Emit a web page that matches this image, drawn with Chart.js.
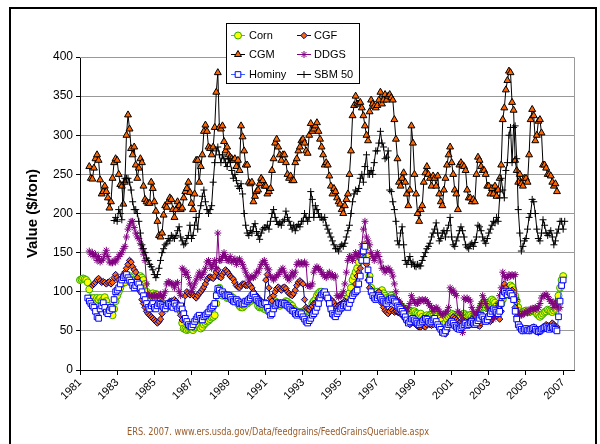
<!DOCTYPE html>
<html>
<head>
<meta charset="utf-8">
<script src="https://cdn.jsdelivr.net/npm/chart.js@4.4.1/dist/chart.umd.min.js"></script>
<style>
  html, body { margin: 0; padding: 0; background: #fff; }
  #wrap { position: relative; width: 600px; height: 444px; }
</style>
</head>
<body>
<div id="wrap"><canvas id="feedChart" width="600" height="444"></canvas></div>
<script>
// Monthly categories, Jan 1981 .. Aug 2007
const firstYear = 1981;
const monthCount = 320;
const tickYears = [1981, 1983, 1985, 1987, 1989, 1991, 1993, 1995, 1997, 1999, 2001, 2003, 2005, 2007];

// Series values ($/ton), one row per year, each series begins at its start month index
const cornStart = 0;
const corn = [
  115,116,117,116,115,112,103,92,90,92,88,92,
  90,92,88,90,93,88,82,75,72,70,78,88,
  95,100,105,110,112,112,115,120,120,118,115,112,
  112,115,118,120,118,115,110,100,95,92,95,98,
  95,97,96,93,90,85,82,80,80,82,85,85,
  85,84,82,80,78,75,60,53,52,51,52,53,
  52,51,54,55,57,55,53,55,58,60,62,63,
  65,67,68,70,85,100,105,98,95,97,95,92,
  92,95,93,92,90,88,85,82,80,80,82,85,
  85,87,88,90,92,90,88,82,80,80,80,78,
  77,78,80,82,85,85,88,86,85,82,84,85,
  86,88,87,85,84,82,78,76,75,74,72,73,
  75,74,75,76,77,78,85,88,90,95,98,100,
  100,98,97,95,92,88,80,75,72,73,75,78,
  78,80,82,85,88,92,98,105,115,120,125,130,
  138,145,150,155,160,158,145,120,105,100,98,100,
  100,98,100,102,98,95,92,90,93,95,92,90,
  88,87,85,82,80,78,75,72,68,70,72,75,
  75,73,72,70,72,68,65,68,70,68,70,72,
  73,75,73,70,67,63,58,55,60,65,68,70,
  72,70,68,67,65,67,68,70,72,70,68,70,
  70,68,67,68,70,72,75,80,85,83,80,82,
  85,88,90,88,86,82,80,82,85,90,95,98,
  100,104,108,106,102,95,88,80,75,72,73,75,
  76,75,74,75,76,78,75,72,70,68,70,72,
  74,75,77,76,75,74,76,78,85,95,105,115,
  120
];

const cgfStart = 8;
const cgf = [
  108,110,112,115,
  117,114,112,113,112,110,112,113,110,112,118,122,
  118,115,112,118,122,125,130,135,140,138,132,128,
  125,118,112,100,90,85,80,75,72,70,68,66,
  64,62,60,62,65,72,78,80,82,85,88,88,
  88,90,88,85,80,70,64,75,95,100,98,96,
  98,96,94,92,95,98,100,103,106,110,115,118,
  119,118,117,120,125,128,119,118,122,125,128,126,
  123,120,118,116,112,108,106,105,108,110,110,108,
  108,110,108,105,100,97,95,92,90,88,85,86,
  115,122,105,92,88,95,100,104,106,104,102,105,
  106,104,100,98,96,95,98,102,108,112,114,112,
  110,90,80,78,77,80,82,85,85,88,92,95,
  96,95,94,92,93,90,90,88,86,82,80,82,
  84,85,86,88,87,85,88,90,95,100,110,120,
  125,130,140,150,157,135,115,105,100,98,96,95,
  98,100,95,85,80,76,74,72,75,78,76,74,
  75,74,73,72,70,68,65,62,60,58,60,62,
  60,58,56,55,55,57,56,55,58,60,58,57,
  58,62,60,58,55,52,50,48,46,50,58,62,
  65,68,66,64,62,60,62,64,63,62,60,62,
  63,65,62,60,58,57,56,60,64,66,65,64,
  63,62,65,68,70,72,68,65,75,100,110,105,
  100,95,98,102,95,80,68,60,55,52,50,52,
  53,52,50,52,54,55,53,50,48,50,52,55,
  56,58,57,55,57,60,58,56,55
];

const cgmStart = 6;
const cgm = [
  260,245,244,258,270,275,
  268,243,225,228,235,228,220,207,215,245,265,270,
  268,250,237,235,212,240,300,326,308,283,275,285,
  262,245,258,270,265,235,218,215,213,213,240,232,
  215,203,190,172,170,175,198,210,208,215,220,218,
  205,195,205,215,210,205,207,220,228,232,240,227,
  213,205,225,268,268,240,260,275,305,313,305,285,
  283,275,285,310,355,380,310,308,312,292,280,285,
  275,272,270,268,270,260,268,255,312,298,280,262,
  262,240,238,240,215,222,228,230,238,245,242,235,
  235,225,228,232,255,270,290,295,285,275,268,275,
  275,265,250,245,248,242,242,265,270,280,285,293,
  295,290,280,277,300,315,305,308,312,316,305,295,
  285,275,262,265,262,248,235,225,232,228,220,215,
  212,205,200,210,218,225,250,280,325,338,350,340,
  340,342,335,325,312,300,293,330,345,340,337,335,
  338,345,355,340,345,352,345,350,352,348,345,320,
  295,270,240,235,245,252,240,225,210,230,312,290,
  250,225,200,190,205,210,240,252,260,250,245,235,
  248,245,235,248,225,215,210,230,245,262,275,285,
  265,250,230,225,205,262,265,262,260,255,230,220,
  220,215,218,215,250,272,268,260,255,255,250,235,
  235,225,232,225,235,222,230,245,262,320,335,358,
  370,382,380,342,332,268,255,240,250,238,235,245,
  245,240,275,320,333,325,293,300,318,320,303,262,
  262,258,250,250,248,240,235,238,228
];

const ddgsStart = 6;
const ddgs = [
  152,148,150,145,148,140,
  145,138,140,142,148,153,145,138,137,137,140,138,
  142,145,148,150,155,158,170,180,185,190,190,182,
  175,170,168,162,155,148,140,110,97,95,95,93,
  95,96,93,95,97,92,95,100,110,113,112,110,
  110,105,110,112,100,95,130,128,122,125,118,110,
  100,105,110,115,120,125,118,122,125,130,138,140,
  135,130,135,140,130,175,140,140,145,150,145,140,
  140,145,138,140,142,135,140,142,138,135,130,125,
  120,115,118,120,118,120,125,125,130,135,138,140,
  135,130,128,120,118,115,118,120,122,125,128,130,
  125,120,118,115,120,125,120,125,135,138,135,137,
  135,138,135,108,107,107,110,125,130,132,130,128,
  125,122,120,118,122,125,120,122,118,120,95,93,
  95,95,100,110,125,140,145,145,140,145,150,145,
  148,150,160,180,190,170,165,160,150,145,140,145,
  150,145,138,130,130,125,128,130,128,125,120,110,
  100,90,88,85,82,80,78,75,80,85,95,90,
  87,85,85,90,88,90,88,90,88,85,82,80,
  75,78,80,78,75,72,70,72,73,75,80,105,
  100,102,98,95,75,73,70,48,92,90,92,90,
  88,80,75,70,72,75,80,85,95,90,85,80,
  75,70,68,65,70,78,85,95,105,125,120,118,
  118,122,120,122,120,122,90,75,70,70,72,72,
  75,73,75,78,78,77,80,78,80,85,92,95,
  95,97,94,90,88,85,80,88,82,78,80
];

const hominyStart = 5;
const hominy = [
  92,88,85,82,80,75,68,
  66,78,82,86,80,74,72,76,80,78,90,100,
  102,105,110,115,118,120,122,118,115,112,108,105,
  108,112,110,105,100,95,90,85,80,78,82,85,
  80,78,82,85,84,82,80,78,82,85,84,82,
  80,85,82,78,80,82,78,72,66,62,58,56,
  55,58,62,65,68,70,66,64,68,70,72,74,
  78,80,82,85,95,104,102,98,100,97,95,96,
  95,93,90,88,87,90,88,85,86,84,85,88,
  88,90,92,95,97,93,90,88,86,85,84,86,
  85,80,75,70,72,78,82,84,86,85,84,86,
  85,83,82,80,78,76,75,72,70,72,74,72,
  68,65,62,60,63,66,70,72,75,80,85,92,
  96,98,100,96,92,85,78,72,70,68,72,75,
  78,80,82,84,82,80,85,90,95,98,100,102,
  110,120,140,152,158,140,128,115,100,95,92,90,
  92,95,93,90,88,86,85,88,90,92,90,88,
  86,82,80,78,75,72,68,64,60,62,65,66,
  64,62,60,58,60,62,64,66,65,62,60,62,
  64,66,62,58,55,52,48,47,50,55,58,60,
  62,60,57,55,53,52,54,56,58,60,57,58,
  60,62,60,58,60,63,66,70,68,65,62,64,
  68,72,75,78,76,74,72,75,85,95,100,98,
  96,100,98,95,90,75,65,58,55,52,50,52,
  53,51,50,52,53,54,52,50,49,50,52,53,
  54,55,53,52,54,55,53,52,50,68,88,108,
  115
];

const sbmStart = 22;
const sbm = [
  191,195,
  190,205,200,192,240,245,245,245,240,230,215,205,
  205,200,190,175,160,155,150,143,140,135,132,128,
  122,118,122,130,140,150,155,160,162,168,165,172,
  170,168,172,178,183,170,165,160,162,168,172,185,
  168,172,185,195,180,200,210,222,230,215,205,200,
  205,210,240,265,280,285,275,265,275,270,265,260,
  270,265,255,245,250,242,235,232,238,225,200,185,
  175,172,178,175,183,187,177,172,167,175,180,182,
  182,185,180,190,200,205,195,190,186,188,185,190,
  192,203,195,190,185,180,185,178,183,186,183,190,
  190,200,195,190,195,228,218,195,210,205,200,195,
  195,192,195,185,180,175,170,165,160,155,155,152,
  158,160,158,162,170,178,185,200,215,225,230,228,
  232,245,250,240,260,275,250,250,255,250,265,280,
  280,290,305,290,285,270,272,280,230,228,215,205,
  190,165,160,175,183,160,140,135,140,145,135,138,
  133,132,135,133,133,140,145,150,155,158,162,170,
  175,180,188,175,165,168,175,178,170,178,185,195,
  170,160,158,165,170,178,183,178,170,160,157,155,
  160,162,158,163,170,185,183,178,170,165,162,168,
  175,180,185,190,188,195,190,220,245,230,220,255,
  265,300,310,265,310,312,270,205,175,152,158,165,
  168,180,195,200,218,215,200,180,168,165,175,192,
  185,175,172,175,178,170,160,165,175,180,190,190,
  180,190
];

const labels = Array.from({ length: monthCount }, (_, i) => {
  const y = firstYear + Math.floor(i / 12);
  return y + '-' + String(i % 12 + 1).padStart(2, '0');
});

function pad(start, values) {
  const out = new Array(monthCount).fill(null);
  values.forEach((v, i) => { out[start + i] = v; });
  return out;
}

const FONT = '"Liberation Sans", Arial, sans-serif';

// Excel draws later series on top; Chart.js puts lower "order" on top
const series = [
  { label: 'Corn',   data: pad(cornStart, corn),     line: '#33cc33', fill: '#ffff00', edge: '#33aa00', style: 'circle',   r: 3.5, order: 5 },
  { label: 'CGF',    data: pad(cgfStart, cgf),       line: '#000080', fill: '#ff6600', edge: '#000080', style: 'rectRot',  r: 3.2, order: 4 },
  { label: 'CGM',    data: pad(cgmStart, cgm),       line: '#000000', fill: '#ff6600', edge: '#000000', style: 'triangle', r: 4,   order: 3 },
  { label: 'DDGS',   data: pad(ddgsStart, ddgs),     line: '#800080', fill: '#800080', edge: '#800080', style: 'star',     r: 3.5, order: 2 },
  { label: 'Hominy', data: pad(hominyStart, hominy), line: '#3366ff', fill: '#ffffff', edge: '#0000ff', style: 'rect',     r: 4,   order: 1 },
  { label: 'SBM 50', data: pad(sbmStart, sbm),       line: '#000000', fill: '#000000', edge: '#000000', style: 'cross',    r: 3.5, order: 0 }
];

function drawMarker(ctx, s, x, y) {
  const r = s.r;
  ctx.save();
  ctx.fillStyle = s.fill;
  ctx.strokeStyle = s.edge;
  ctx.lineWidth = 1;
  ctx.beginPath();
  if (s.style === 'circle') {
    ctx.arc(x, y, r, 0, Math.PI * 2);
    ctx.fill(); ctx.stroke();
  } else if (s.style === 'rectRot') {
    ctx.moveTo(x, y - r); ctx.lineTo(x + r, y); ctx.lineTo(x, y + r); ctx.lineTo(x - r, y); ctx.closePath();
    ctx.fill(); ctx.stroke();
  } else if (s.style === 'triangle') {
    ctx.moveTo(x, y - r); ctx.lineTo(x + r * 0.87, y + r * 0.5); ctx.lineTo(x - r * 0.87, y + r * 0.5); ctx.closePath();
    ctx.fill(); ctx.stroke();
  } else if (s.style === 'rect') {
    const h = r * Math.SQRT1_2;
    ctx.rect(x - h, y - h, 2 * h, 2 * h);
    ctx.fill(); ctx.stroke();
  } else if (s.style === 'star') {
    for (let k = 0; k < 4; k++) {
      const a = k * Math.PI / 4;
      ctx.moveTo(x - r * Math.sin(a), y - r * Math.cos(a));
      ctx.lineTo(x + r * Math.sin(a), y + r * Math.cos(a));
    }
    ctx.stroke();
  } else {
    ctx.moveTo(x - r, y); ctx.lineTo(x + r, y);
    ctx.moveTo(x, y - r); ctx.lineTo(x, y + r);
    ctx.stroke();
  }
  ctx.restore();
}

const frameAndLegend = {
  id: 'frameAndLegend',
  beforeDraw(chart) {
    const ctx = chart.ctx;
    ctx.save();
    ctx.fillStyle = '#fff';
    ctx.fillRect(0, 0, chart.width, chart.height);
    ctx.strokeStyle = '#000';
    ctx.lineWidth = 2;
    ctx.strokeRect(10, 8, 586, 480);
    ctx.restore();
  },
  afterDatasetsDraw(chart) {
    const { ctx, chartArea: a } = chart;
    ctx.save();
    ctx.strokeStyle = '#999';
    ctx.lineWidth = 1;
    ctx.beginPath();
    ctx.moveTo(a.left, a.top + 0.5);
    ctx.lineTo(a.right + 0.5, a.top + 0.5);
    ctx.lineTo(a.right + 0.5, a.bottom);
    ctx.stroke();
    ctx.restore();
  },
  afterDraw(chart) {
    const ctx = chart.ctx;
    ctx.save();
    // legend box
    ctx.fillStyle = '#fff';
    ctx.fillRect(226, 23, 134, 61);
    ctx.strokeStyle = '#000';
    ctx.lineWidth = 1;
    ctx.strokeRect(226.5, 23.5, 133, 60);
    const cols = [{ x0: 231, x1: 245, text: 249 }, { x0: 297, x1: 311, text: 314 }];
    const rows = [35, 54, 74];
    ctx.font = '11px ' + FONT;
    ctx.textBaseline = 'middle';
    series.forEach((s, i) => {
      const c = cols[i % 2];
      const y = rows[Math.floor(i / 2)];
      ctx.strokeStyle = s.line;
      ctx.beginPath();
      ctx.moveTo(c.x0, y + 0.5);
      ctx.lineTo(c.x1, y + 0.5);
      ctx.stroke();
      drawMarker(ctx, s, (c.x0 + c.x1) / 2, y + 0.5);
      ctx.fillStyle = '#000';
      ctx.fillText(s.label, c.text, y + 1);
    });
    // source line
    ctx.fillStyle = '#9a5a28';
    ctx.font = '10px "DejaVu Sans", sans-serif';
    ctx.textAlign = 'center';
    ctx.textBaseline = 'middle';
    ctx.fillText('ERS. 2007. www.ers.usda.gov/Data/feedgrains/FeedGrainsQueriable.aspx', 278, 432, 302);
    ctx.restore();
  }
};

new Chart(document.getElementById('feedChart').getContext('2d'), {
  type: 'line',
  data: {
    labels: labels,
    datasets: series.map(s => ({
      label: s.label,
      data: s.data,
      order: s.order,
      borderColor: s.line,
      borderWidth: 1,
      pointStyle: s.style,
      pointRadius: s.r,
      pointBackgroundColor: s.fill,
      pointBorderColor: s.edge,
      pointBorderWidth: 1,
      tension: 0,
      spanGaps: false,
      fill: false
    }))
  },
  options: {
    responsive: false,
    animation: false,
    events: [],
    layout: { padding: { top: 57, right: 26, left: 0, bottom: 0 } },
    plugins: { legend: { display: false }, tooltip: { enabled: false } },
    scales: {
      x: {
        type: 'category',
        offset: false,
        border: { color: '#000', width: 1 },
        grid: {
          display: true,
          drawOnChartArea: false,
          tickLength: 5,
          tickColor: c => (c.tick && c.tick.label ? '#000' : 'rgba(0,0,0,0)')
        },
        ticks: {
          autoSkip: false,
          maxRotation: 45,
          minRotation: 45,
          padding: 1,
          color: '#000',
          font: { size: 11, family: FONT },
          callback: (v, i) => {
            const y = firstYear + Math.floor(i / 12);
            return i % 12 === 0 && tickYears.includes(y) ? String(y) : null;
          }
        },
        afterFit: s => { s.height = 74; }
      },
      y: {
        min: 0,
        max: 400,
        border: { color: '#000', width: 1 },
        grid: { color: '#999', tickColor: '#000', tickLength: 4 },
        ticks: { stepSize: 50, padding: 3, color: '#000', font: { size: 12, family: FONT } },
        title: {
          display: true,
          text: 'Value ($/ton)',
          color: '#000',
          font: { size: 15, weight: 'bold', family: FONT },
          padding: { top: 24, bottom: 0 }
        },
        afterFit: s => { s.width = 80; }
      }
    }
  },
  plugins: [frameAndLegend]
});
</script>
</body>
</html>
